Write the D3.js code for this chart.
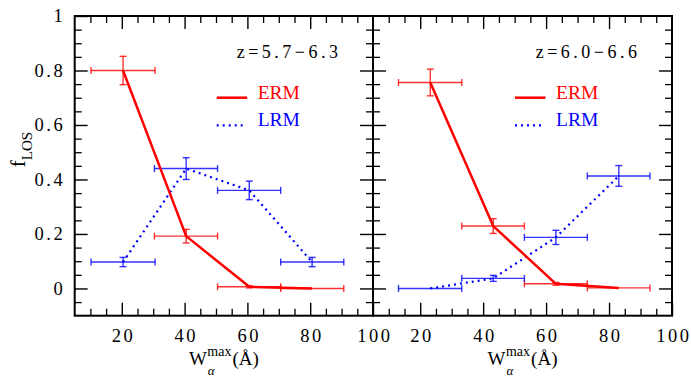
<!DOCTYPE html>
<html><head><meta charset="utf-8">
<script src="https://cdn.jsdelivr.net/npm/d3@7/dist/d3.min.js"></script>
<style>
html,body{margin:0;padding:0;background:#fff;}
svg{display:block;}
text{font-family:"Liberation Serif","Times New Roman",serif;}
</style></head>
<body>
<svg id="c" width="691" height="377"></svg>
<script>
// ---- data ----
const panelLabels = ["z=5.7\u22126.3", "z=6.0\u22126.6"];
const seriesNames = ["ERM", "LRM"];
const xTicks = [20, 40, 60, 80, 100];
const yTicks = [0, 0.2, 0.4, 0.6, 0.8, 1];
const yTickLabels = ["0", "0.2", "0.4", "0.6", "0.8", "1"];
// panel 1 (z=5.7-6.3)
const xCenterA = [20.4, 40.5, 60.6, 80.6];
const xLowA = [10.2, 30.4, 50.5, 70.6];
const xHighA = [30.6, 50.5, 70.6, 90.7];
const ermA = [0.80, 0.192, 0.006, 0.0];
const ermErrA = [0.052, 0.025, 0.004, 0];
const lrmA = [0.097, 0.44, 0.36, 0.097];
const lrmErrA = [0.017, 0.04, 0.034, 0.017];
// panel 2 (z=6.0-6.6)
const xCenterB = [23.2, 43.2, 63.1, 83.1];
const xLowB = [13.1, 33.2, 53.1, 73.1];
const xHighB = [33.2, 53.1, 73.1, 93.0];
const ermB = [0.756, 0.229, 0.017, 0.002];
const ermErrB = [0.049, 0.027, 0.005, 0];
const lrmB = [0.0, 0.037, 0.1875, 0.413];
const lrmErrB = [0, 0.011, 0.026, 0.038];

// ---- layout ----
const svg = d3.select("#c");
const yTopPx = 16, yBotPx = 315.7;
const y = d3.scaleLinear().domain([-0.1, 1]).range([yBotPx, yTopPx]);
const panels = [
  {x0: 74.7, x1: 373, label: panelLabels[0], xc: xCenterA, lo: xLowA, hi: xHighA,
   erm: ermA, ermE: ermErrA, lrm: lrmA, lrmE: lrmErrA, yLabels: true},
  {x0: 373, x1: 672, label: panelLabels[1], xc: xCenterB, lo: xLowB, hi: xHighB,
   erm: ermB, ermE: ermErrB, lrm: lrmB, lrmE: lrmErrB, yLabels: false}
];
const RED = "#ff0000", BLUE = "#0000ff";
const majorLen = 13, minorLen = 7;
const xMinor = d3.range(10, 100, 5).filter(v => v % 20 !== 0);
const yMinor = d3.range(-5, 100, 5).filter(v => v % 20 !== 0).map(v => v / 100);
const tickFont = 18.5, ls = 2.5;

panels.forEach((p, pi) => {
  const x = d3.scaleLinear().domain([5, 100]).range([p.x0, p.x1]);
  const g = svg.append("g");

  // minor ticks
  const minorStyle = sel => { sel.select(".domain").remove(); sel.selectAll("line").attr("stroke", "#000").attr("stroke-width", 1.3); sel.selectAll("text").remove(); };
  g.append("g").attr("transform", `translate(0,${yBotPx})`).call(d3.axisBottom(x).tickValues(xMinor).tickSize(-minorLen).tickSizeOuter(0)).call(minorStyle);
  g.append("g").attr("transform", `translate(0,${yTopPx})`).call(d3.axisTop(x).tickValues(xMinor).tickSize(-minorLen).tickSizeOuter(0)).call(minorStyle);
  g.append("g").attr("transform", `translate(${p.x0},0)`).call(d3.axisLeft(y).tickValues(yMinor).tickSize(-minorLen).tickSizeOuter(0)).call(minorStyle);
  g.append("g").attr("transform", `translate(${p.x1},0)`).call(d3.axisRight(y).tickValues(yMinor).tickSize(-minorLen).tickSizeOuter(0)).call(minorStyle);

  // major ticks
  const majorStyle = sel => { sel.select(".domain").remove(); sel.selectAll("line").attr("stroke", "#000").attr("stroke-width", 1.4);
    sel.selectAll("text").attr("fill", "#000").style("font-size", tickFont + "px").style("letter-spacing", ls + "px").attr("font-family", null); };
  const xMajor = xTicks.filter(v => v < 100);
  g.append("g").attr("transform", `translate(0,${yBotPx})`)
    .call(d3.axisBottom(x).tickValues(xTicks).tickSize(-majorLen).tickSizeOuter(0).tickPadding(13.3).tickFormat(d3.format("d")))
    .call(majorStyle)
    .call(s => s.selectAll("text").attr("dx", ls / 2));
  g.append("g").attr("transform", `translate(0,${yTopPx})`)
    .call(d3.axisTop(x).tickValues(xMajor).tickSize(-majorLen).tickSizeOuter(0).tickFormat("")).call(majorStyle);
  g.append("g").attr("transform", `translate(${p.x0},0)`)
    .call(d3.axisLeft(y).tickValues(yTicks.filter(v => v < 1 || p.yLabels)).tickSize(-majorLen).tickSizeOuter(0).tickPadding(9.5)
      .tickFormat(p.yLabels ? (d => yTickLabels[yTicks.indexOf(d)]) : ""))
    .call(majorStyle);
  g.append("g").attr("transform", `translate(${p.x1},0)`)
    .call(d3.axisRight(y).tickValues(yTicks.filter(v => v < 1)).tickSize(-majorLen).tickSizeOuter(0).tickFormat("")).call(majorStyle);

  // border
  g.append("rect").attr("x", p.x0).attr("y", yTopPx).attr("width", p.x1 - p.x0).attr("height", yBotPx - yTopPx)
    .attr("fill", "none").attr("stroke", "#000").attr("stroke-width", 2);

  // error bars
  const cap = 3.5;
  const drawErr = (vals, errs, color) => {
    const eb = g.append("g").attr("stroke", color).attr("stroke-width", 1.4).attr("stroke-opacity", 0.8).attr("fill", "none");
    vals.forEach((v, i) => {
      const cx = x(p.xc[i]), cy = y(v);
      eb.append("line").attr("x1", x(p.lo[i])).attr("x2", x(p.hi[i])).attr("y1", cy).attr("y2", cy);
      eb.append("line").attr("x1", x(p.lo[i])).attr("x2", x(p.lo[i])).attr("y1", cy - cap).attr("y2", cy + cap);
      eb.append("line").attr("x1", x(p.hi[i])).attr("x2", x(p.hi[i])).attr("y1", cy - cap).attr("y2", cy + cap);
      if (errs[i] > 0) {
        const ya = y(v + errs[i]), yb = y(v - errs[i]);
        eb.append("line").attr("x1", cx).attr("x2", cx).attr("y1", ya).attr("y2", yb);
        eb.append("line").attr("x1", cx - cap).attr("x2", cx + cap).attr("y1", ya).attr("y2", ya);
        eb.append("line").attr("x1", cx - cap).attr("x2", cx + cap).attr("y1", yb).attr("y2", yb);
      }
    });
  };
  drawErr(p.erm, p.ermE, RED);
  drawErr(p.lrm, p.lrmE, BLUE);

  const line = d3.line().x((d, i) => x(p.xc[i])).y(d => y(d));
  g.append("path").attr("d", line(p.lrm)).attr("fill", "none").attr("stroke", BLUE)
    .attr("stroke-width", 2.2).attr("stroke-dasharray", "2,4");
  g.append("path").attr("d", line(p.erm)).attr("fill", "none").attr("stroke", RED)
    .attr("stroke-width", 2.5).attr("stroke-linejoin", "round");

  // legend
  const lx0 = p.x0 + 142, lx1 = p.x0 + 172.5, tx = p.x0 + 183;
  g.append("line").attr("x1", lx0).attr("x2", lx1).attr("y1", 97.7).attr("y2", 97.7)
    .attr("stroke", RED).attr("stroke-width", 2.5);
  g.append("text").attr("x", tx).attr("y", 99.3).attr("fill", RED).style("font-size", "19.5px").text(seriesNames[0]);
  g.append("line").attr("x1", lx0).attr("x2", lx1 - 2).attr("y1", 125.3).attr("y2", 125.3)
    .attr("stroke", BLUE).attr("stroke-width", 2.2).attr("stroke-dasharray", "2,4");
  g.append("text").attr("x", tx).attr("y", 126).attr("fill", BLUE).style("font-size", "19.5px").text(seriesNames[1]);

  // annotation
  g.append("text").attr("x", p.x1 - 35 + 3.5).attr("y", 58.3).attr("text-anchor", "end")
    .style("font-size", "18px").style("letter-spacing", "3.5px").attr("fill", "#000").text(p.label);

  // x axis title
  const xt = g.append("g");
  const tW = xt.append("text").attr("x", 0).attr("y", 0).style("font-size", "19px").text("W");
  const wW = tW.node().getComputedTextLength();
  const tMax = xt.append("text").attr("x", wW + 0.5).attr("y", -9.3).style("font-size", "14px").text("max");
  const wMax = tMax.node().getComputedTextLength();
  xt.append("text").attr("x", wW + 1).attr("y", 9.5).style("font-size", "13px").style("font-style", "italic").text("\u03b1");
  const tA = xt.append("text").attr("x", wW + 0.5 + wMax + 1).attr("y", 0).style("font-size", "19px").text("(\u00c5)");
  const total = wW + 1.5 + wMax + tA.node().getComputedTextLength();
  xt.attr("transform", `translate(${(p.x0 + p.x1) / 2 - total / 2},365)`);
});

// y axis title
const yt = svg.append("text").attr("transform", "translate(25,149.5) rotate(-90)").attr("text-anchor", "middle");
yt.append("tspan").style("font-size", "21px").text("f");
yt.append("tspan").attr("dy", 7).style("font-size", "15px").text("LOS");
</script>
</body></html>
